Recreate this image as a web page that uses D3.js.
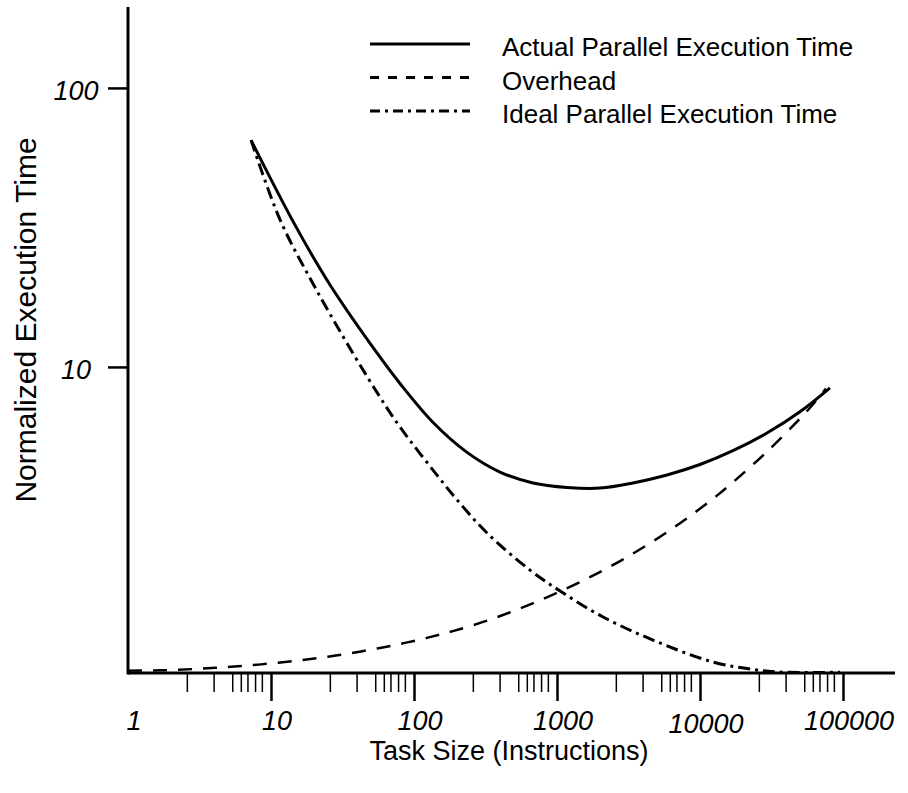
<!DOCTYPE html>
<html>
<head>
<meta charset="utf-8">
<script src="https://cdn.jsdelivr.net/npm/d3@7"></script>
<style>
  html, body { margin: 0; padding: 0; background: #fff; }
  svg { display: block; }
  text { font-family: "Liberation Sans", Arial, Helvetica, sans-serif; fill: #000; }
</style>
</head>
<body>
<script>
// ---------------- DATA ----------------
const xTickValues = [1, 10, 100, 1000, 10000, 100000];
const xTickLabels = ["1", "10", "100", "1000", "10000", "100000"];
const xMinorFactors = [2.6, 4, 5.4, 6.2, 6.9, 7.8, 8.7];
const yTickValues = [10, 100];
const yTickLabels = ["10", "100"];

const seriesNames = ["Actual Parallel Execution Time", "Overhead", "Ideal Parallel Execution Time"];

const actual = [
  [7.25, 65], [14.7, 32.3], [25.9, 19.67], [55.1, 11.22], [79.8, 8.72],
  [136, 6.32], [235, 4.94], [399, 4.2], [679, 3.84], [1175, 3.70], [2000, 3.68],
  [3400, 3.84], [5880, 4.10], [10000, 4.47], [17000, 5.01], [29400, 5.80],
  [50000, 6.91], [81100, 8.42]
];
const overhead = [
  [1, 0.815], [1.7, 0.818], [2.94, 0.827], [5, 0.841], [8.51, 0.859], [14.7, 0.884],
  [25, 0.915], [42.6, 0.956], [73.6, 1.008], [125, 1.071], [187, 1.130], [324, 1.232],
  [551, 1.362], [938, 1.528], [1622, 1.744], [2760, 2.015], [4690, 2.372],
  [8110, 2.870], [13200, 3.465], [17000, 3.860], [29400, 4.970], [50000, 6.526],
  [60700, 7.276], [76000, 8.359]
];
const ideal = [
  [7.25, 65], [11.6, 33.6], [20.3, 19.3], [37.4, 11.2], [57.8, 7.8], [79.8, 6.09],
  [160, 3.84], [200, 3.34], [324, 2.54], [648, 1.87], [1100, 1.55], [2100, 1.27],
  [4690, 1.05], [12300, 0.876], [25000, 0.82], [36300, 0.806], [95300, 0.805]
];

const xTitle = "Task Size (Instructions)";
const yTitle = "Normalized Execution Time";

// ---------------- LAYOUT ----------------
const W = 908, H = 793;
const pLeft = 128, pRight = 895, pTop = 7, pBottom = 673;

const svg = d3.select("body").append("svg").attr("width", W).attr("height", H);

const x = d3.scaleLog().domain([1, 100000]).range([pLeft, 843]);
const y = d3.scaleLog().domain([0.8, 195]).range([pBottom, pTop]);

// Axes lines
svg.append("line").attr("x1", pLeft).attr("x2", pRight).attr("y1", pBottom).attr("y2", pBottom)
  .attr("stroke", "#000").attr("stroke-width", 3);
svg.append("line").attr("x1", pLeft).attr("x2", pLeft).attr("y1", pTop).attr("y2", pBottom + 1.5)
  .attr("stroke", "#000").attr("stroke-width", 3);

// X major ticks via axis
const xAxis = d3.axisBottom(x).tickValues(xTickValues.slice(1)).tickSize(28).tickFormat("");
const gx = svg.append("g").attr("transform", `translate(0,${pBottom})`).call(xAxis);
gx.select(".domain").remove();
gx.selectAll(".tick line").attr("stroke", "#000").attr("stroke-width", 2.5);

// X minor ticks
const minor = [];
xTickValues.slice(0, -1).forEach(d => xMinorFactors.forEach(f => minor.push(d * f)));
svg.append("g").selectAll("line").data(minor).join("line")
  .attr("x1", d => x(d)).attr("x2", d => x(d))
  .attr("y1", pBottom).attr("y2", pBottom + 19)
  .attr("stroke", "#000").attr("stroke-width", 1.5);

// X tick labels
svg.append("g").selectAll("text").data(xTickValues).join("text")
  .attr("x", d => x(d) + 6).attr("y", (d, i) => i === 4 ? 733 : 730)
  .attr("text-anchor", "middle")
  .attr("font-size", 27).attr("font-style", "italic")
  .text((d, i) => xTickLabels[i]);

// Y ticks via axis
const yAxis = d3.axisLeft(y).tickValues(yTickValues).tickSize(20).tickFormat("");
const gy = svg.append("g").attr("transform", `translate(${pLeft},0)`).call(yAxis);
gy.select(".domain").remove();
gy.selectAll(".tick line").attr("stroke", "#000").attr("stroke-width", 2.5);

svg.append("g").selectAll("text").data(yTickValues).join("text")
  .attr("x", 76).attr("y", d => y(d) + 12)
  .attr("text-anchor", "middle")
  .attr("font-size", 27).attr("font-style", "italic")
  .text((d, i) => yTickLabels[i]);

// Titles
svg.append("text").attr("x", 509).attr("y", 760).attr("text-anchor", "middle")
  .attr("font-size", 27).text(xTitle);
svg.append("text").attr("transform", "translate(36,320) rotate(-90)")
  .attr("text-anchor", "middle").attr("font-size", 30).text(yTitle);

// Curves
const line = d3.line().x(d => x(d[0])).y(d => y(d[1])).curve(d3.curveCatmullRom.alpha(0.5));
svg.append("path").datum(overhead).attr("d", line).attr("fill", "none")
  .attr("stroke", "#000").attr("stroke-width", 2.5).attr("stroke-dasharray", "14,11");
svg.append("path").datum(ideal).attr("d", line).attr("fill", "none")
  .attr("stroke", "#000").attr("stroke-width", 3).attr("stroke-dasharray", "12,5,3,5");
svg.append("path").datum(actual).attr("d", line).attr("fill", "none")
  .attr("stroke", "#000").attr("stroke-width", 3);

// Legend
const legendStyles = [
  { dash: null, w: 3 },
  { dash: "9,9", w: 3 },
  { dash: "10,5,3,5", w: 3 }
];
const lg = svg.append("g");
seriesNames.forEach((name, i) => {
  const yy = 44 + i * 33.5;
  const l = lg.append("line").attr("x1", 370).attr("x2", 470).attr("y1", yy).attr("y2", yy)
    .attr("stroke", "#000").attr("stroke-width", legendStyles[i].w);
  if (legendStyles[i].dash) l.attr("stroke-dasharray", legendStyles[i].dash);
  lg.append("text").attr("x", 502).attr("y", yy + 12).attr("font-size", 26).text(name);
});
</script>
</body>
</html>
